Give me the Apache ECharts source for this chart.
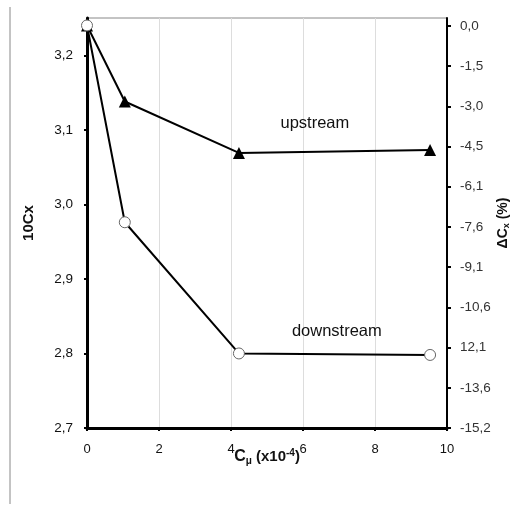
<!DOCTYPE html>
<html>
<head>
<meta charset="utf-8">
<script src="https://cdn.jsdelivr.net/npm/echarts@6/dist/echarts.min.js"></script>
<style>
    html, body { margin: 0; padding: 0; background: #fff; }
    #main { width: 510px; height: 505px; }
</style>
</head>
<body>
<div id="main"></div>
<script>
    // Cμ (x10^-4)
    var cmu = [0, 1.05, 4.22, 9.53];
    // 10Cx
    var upstream = [3.240, 3.138, 3.069, 3.073];
    var downstream = [3.240, 2.976, 2.800, 2.798];

    var leftTicks = [2.7, 2.8, 2.9, 3.0, 3.1, 3.2];
    var rightTicks = [0, -1.52, -3.04, -4.56, -6.08, -7.6, -9.12, -10.64, -12.16, -13.68, -15.2];
    var rightLabels = ['0,0', '-1,5', '-3,0', '-4,5', '-6,1', '-7,6', '-9,1', '-10,6', '12,1', '-13,6', '-15,2'];

    function pairs(xs, ys) {
        return xs.map(function (x, i) { return [x, ys[i]]; });
    }

    var myChart = echarts.init(document.getElementById('main'));
    var font = 'Liberation Sans, Arial, sans-serif';
    option = {
        animation: false,
        grid: {
            left: 87, right: 63, top: 18, bottom: 77,
            outerBoundsMode: 'none',
            show: true,
            borderColor: '#888',
            borderWidth: 1
        },
        xAxis: {
            type: 'value',
            min: 0, max: 10, interval: 2,
            axisLine: { onZero: false, lineStyle: { color: '#000', width: 3 } },
            axisTick: { length: 3, lineStyle: { color: '#000', width: 2 } },
            axisLabel: { color: '#111', fontFamily: font, fontSize: 13, margin: 15 },
            splitLine: { show: true, lineStyle: { color: '#ddd', width: 1 } },
            name: '{c|C}{s|μ}{b| (x10}{u|-4}{b|)}',
            nameLocation: 'middle',
            nameMoveOverlap: false,
            nameGap: 20,
            nameTextStyle: {
                rich: {
                    c: { fontFamily: font, fontSize: 16, fontWeight: 'bold', color: '#111' },
                    b: { fontFamily: font, fontSize: 15, fontWeight: 'bold', color: '#111' },
                    s: { fontFamily: font, fontSize: 10, fontWeight: 'bold', color: '#111', verticalAlign: 'bottom', padding: [8, 0, 0, 0] },
                    u: { fontFamily: font, fontSize: 10, fontWeight: 'bold', color: '#111', verticalAlign: 'top', padding: [0, 0, 6, 0] }
                }
            }
        },
        yAxis: [
            {
                type: 'value',
                min: 2.7, max: 3.25,
                axisLine: { show: true, onZero: false, lineStyle: { color: '#000', width: 3 } },
                axisTick: { show: true, length: 3, customValues: leftTicks, lineStyle: { color: '#000', width: 2 } },
                axisLabel: {
                    customValues: leftTicks,
                    color: '#111', fontFamily: font, fontSize: 13.5, margin: 14,
                    formatter: function (v) { return v.toFixed(1).replace('.', ','); }
                },
                splitLine: { show: false },
                name: '10Cx',
                nameLocation: 'middle',
                nameMoveOverlap: false,
                nameRotate: 90,
                nameGap: 51,
                nameTextStyle: { fontFamily: font, fontSize: 15, fontWeight: 'bold', color: '#111' }
            },
            {
                type: 'value',
                position: 'right',
                min: -15.2, max: 0.3,
                axisLine: { show: true, onZero: false, lineStyle: { color: '#000', width: 2 } },
                axisTick: { show: true, length: 4, customValues: rightTicks, lineStyle: { color: '#000', width: 2 } },
                axisLabel: {
                    customValues: rightTicks,
                    color: '#333', fontFamily: font, fontSize: 13.5, margin: 13,
                    formatter: function (v) {
                        for (var i = 0; i < rightTicks.length; i++) {
                            if (Math.abs(rightTicks[i] - v) < 1e-6) return rightLabels[i];
                        }
                        return '';
                    }
                },
                splitLine: { show: false },
                name: '{b|ΔC}{s|x}{b| (%)}',
                nameLocation: 'middle',
                nameMoveOverlap: false,
                nameRotate: 90,
                nameGap: 48,
                nameTextStyle: {
                    rich: {
                        b: { fontFamily: font, fontSize: 14, fontWeight: 'bold', color: '#111' },
                        s: { fontFamily: font, fontSize: 9, fontWeight: 'bold', color: '#111', verticalAlign: 'bottom', padding: [7, 0, 0, 0] }
                    }
                }
            }
        ],
        graphic: [
            {
                type: 'line',
                shape: { x1: 10, y1: 7, x2: 10, y2: 504 },
                style: { stroke: '#888', lineWidth: 1 }
            }
        ],
        series: [
            {
                name: 'upstream',
                type: 'line',
                data: pairs(cmu, upstream),
                symbol: 'triangle',
                symbolSize: 12,
                lineStyle: { color: '#000', width: 2 },
                itemStyle: { color: '#000' },
                markPoint: {
                    symbol: 'circle',
                    symbolSize: 1,
                    itemStyle: { color: 'rgba(0,0,0,0)' },
                    label: { show: true, position: 'inside', formatter: 'upstream', fontFamily: font, fontSize: 16.5, color: '#111' },
                    data: [{ coord: [6.33, 3.109] }]
                }
            },
            {
                name: 'downstream',
                type: 'line',
                data: pairs(cmu, downstream),
                symbol: 'circle',
                symbolSize: 11,
                lineStyle: { color: '#000', width: 2 },
                itemStyle: { color: '#fff', borderColor: '#666', borderWidth: 1 },
                markPoint: {
                    symbol: 'circle',
                    symbolSize: 1,
                    itemStyle: { color: 'rgba(0,0,0,0)' },
                    label: { show: true, position: 'inside', formatter: 'downstream', fontFamily: font, fontSize: 16.5, color: '#111' },
                    data: [{ coord: [6.94, 2.83] }]
                }
            }
        ]
    };
    myChart.setOption(option);
</script>
</body>
</html>
